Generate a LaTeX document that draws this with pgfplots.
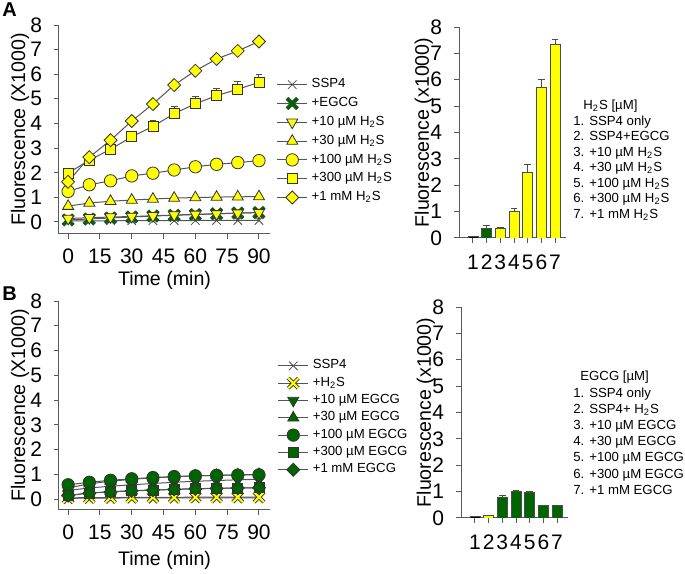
\documentclass[border=0pt]{standalone}
\usepackage{pgfplots}
\pgfplotsset{compat=1.18}
\usepackage{fontspec}
\setmainfont{Liberation Sans}
\definecolor{dg}{RGB}{0,100,0}
\definecolor{yl}{RGB}{255,255,0}
\definecolor{ln}{RGB}{85,85,85}
\pgfdeclareplotmark{fatxg}{%
 \pgfsetlinewidth{2.0pt}\pgfsetstrokecolor{black!70}%
 \pgfpathmoveto{\pgfqpoint{-\pgfplotmarksize}{-\pgfplotmarksize}}\pgfpathlineto{\pgfqpoint{\pgfplotmarksize}{\pgfplotmarksize}}%
 \pgfpathmoveto{\pgfqpoint{-\pgfplotmarksize}{\pgfplotmarksize}}\pgfpathlineto{\pgfqpoint{\pgfplotmarksize}{-\pgfplotmarksize}}%
 \pgfusepathqstroke
 \pgfsetlinewidth{1.3pt}\pgfsetstrokecolor{dg}%
 \pgfpathmoveto{\pgfqpoint{-\pgfplotmarksize}{-\pgfplotmarksize}}\pgfpathlineto{\pgfqpoint{\pgfplotmarksize}{\pgfplotmarksize}}%
 \pgfpathmoveto{\pgfqpoint{-\pgfplotmarksize}{\pgfplotmarksize}}\pgfpathlineto{\pgfqpoint{\pgfplotmarksize}{-\pgfplotmarksize}}%
 \pgfusepathqstroke}
\pgfdeclareplotmark{fatxy}{%
 \pgfsetlinewidth{1.9pt}\pgfsetstrokecolor{black!80}%
 \pgfpathmoveto{\pgfqpoint{-\pgfplotmarksize}{-\pgfplotmarksize}}\pgfpathlineto{\pgfqpoint{\pgfplotmarksize}{\pgfplotmarksize}}%
 \pgfpathmoveto{\pgfqpoint{-\pgfplotmarksize}{\pgfplotmarksize}}\pgfpathlineto{\pgfqpoint{\pgfplotmarksize}{-\pgfplotmarksize}}%
 \pgfusepathqstroke
 \pgfsetlinewidth{1.0pt}\pgfsetstrokecolor{yl}%
 \pgfpathmoveto{\pgfqpoint{-\pgfplotmarksize}{-\pgfplotmarksize}}\pgfpathlineto{\pgfqpoint{\pgfplotmarksize}{\pgfplotmarksize}}%
 \pgfpathmoveto{\pgfqpoint{-\pgfplotmarksize}{\pgfplotmarksize}}\pgfpathlineto{\pgfqpoint{\pgfplotmarksize}{-\pgfplotmarksize}}%
 \pgfusepathqstroke}
\pgfplotsset{
 base/.style={scale only axis, axis lines=left, axis line style={-, black!65, line width=0.5pt},
  tick align=outside, major tick length=2.5pt, tick style={black!65, line width=0.5pt},
  /pgf/number format/assume math mode=true,
  tick label style={font=\fontsize{10.5}{12}\selectfont},
  label style={font=\fontsize{9.8}{11}\selectfont},
  ytick={0,1,...,8}, ymax=8,
  yticklabel style={xshift=-2.5pt},
 },
 lineax/.style={base, width=105.5pt, height=104.5pt, xmin=-4.3, xmax=95.2,
  xtick={0,15,...,90}, xlabel={Time (min)}, ylabel={Fluorescence (X1000)},
  ylabel style={at={(axis description cs:-0.185,0.5)}, anchor=center, rotate=0},
  xticklabel style={yshift=-1.5pt},
  every axis plot/.append style={line width=0.5pt, ln},
  legend style={draw=none, fill=none, font=\fontsize{6.6}{7.5}\selectfont, legend cell align=left, inner sep=0pt, row sep=-0.7pt},
  legend image code/.code={\draw[mark repeat=2,mark phase=2] plot coordinates {(0pt,0pt)(7.5pt,0pt)(15pt,0pt)};},
 },
 barax/.style={base, width=53.5pt, height=105.5pt, xmin=-0.02, xmax=7.8, ymin=0,
  xtick={1,...,7}, ylabel={Fluorescence (x1000)},
  ylabel style={at={(axis description cs:-0.33,0.5)}, anchor=center, rotate=0},
  xticklabel style={yshift=-2.5pt},
  ybar, bar width=5pt, bar shift=0pt,
  every axis plot/.append style={draw=black!70, line width=0.4pt},
 },
 eb/.style={error bars/.cd, y dir=plus, y explicit, error bar style={black!70, line width=0.5pt}, error mark options={rotate=90, mark size=1.7pt, black!70, line width=0.5pt}},
 mk/.style={mark options={draw=black!80, fill=#1, line width=0.4pt, solid}},
 mkr/.style={mark options={draw=black!80, fill=#1, line width=0.4pt, solid, rotate=180}},
 mkd/.style={mark options={draw=black!80, fill=#1, line width=0.4pt, solid, rotate=45}},
}
\begin{document}
\begin{tikzpicture}[x=1pt,y=1pt]
\useasboundingbox (0,0) rectangle (342.5,286.5);
\node[anchor=north west, inner sep=0pt, font=\bfseries\fontsize{10}{12}\selectfont] at (1,285.5) {A};
\node[anchor=north west, inner sep=0pt, font=\bfseries\fontsize{10}{12}\selectfont] at (1,143.5) {B};
% ---------- Panel A line chart
\begin{axis}[lineax, at={(29.5pt,169.5pt)}, anchor=south west, ymin=-0.49,
 xlabel style={at={(axis description cs:0.5,-0.222)}, anchor=center},
 legend style={at={(axis description cs:1.03,0.765)}, anchor=north west}]
\addplot[mark=x, mark size=3pt, mark options={black!70, line width=0.4pt}] coordinates {(0,0.04)(10,0.04)(20,0.05)(30,0.05)(40,0.05)(50,0.05)(60,0.06)(70,0.06)(80,0.06)(90,0.06)};
\addlegendentry{SSP4}
\addplot[mark=fatxg, mark size=2.6pt] coordinates {(0,0.08)(10,0.12)(20,0.16)(30,0.20)(40,0.24)(50,0.27)(60,0.30)(70,0.33)(80,0.36)(90,0.38)};
\addlegendentry{+EGCG}
\addplot[mark=triangle*, mark size=3.2pt, mkr=yl] coordinates {(0,0.14)(10,0.17)(20,0.20)(30,0.22)(40,0.25)(50,0.28)(60,0.31)(70,0.33)(80,0.36)(90,0.38)};
\addlegendentry{+10 µM H\textsubscript{2}S}
\addplot[mark=triangle*, mark size=3.2pt, mk=yl] coordinates {(0,0.64)(10,0.77)(20,0.84)(30,0.89)(40,0.93)(50,0.97)(60,0.99)(70,1.01)(80,1.02)(90,1.03)};
\addlegendentry{+30 µM H\textsubscript{2}S}
\addplot[mark=*, mark size=3.1pt, mk=yl, eb] table[x=t, y=v, y error=e] {
t v e
0 1.24 0.05
10 1.51 0.06
20 1.67 0.08
30 1.87 0.10
40 1.98 0.12
50 2.11 0.13
60 2.24 0.14
70 2.34 0.15
80 2.41 0.15
90 2.49 0.17
};
\addlegendentry{+100 µM H\textsubscript{2}S}
\addplot[mark=square*, mark size=2.5pt, mk=yl, eb] table[x=t, y=v, y error=e] {
t v e
0 1.98 0.08
10 2.51 0.10
20 2.95 0.12
30 3.46 0.20
40 3.88 0.25
50 4.40 0.28
60 4.80 0.30
70 5.13 0.30
80 5.39 0.30
90 5.67 0.32
};
\addlegendentry{+300 µM H\textsubscript{2}S}
\addplot[mark=square*, mark size=2.3pt, mkd=yl] coordinates {(0,1.63)(10,2.63)(20,3.32)(30,4.10)(40,4.79)(50,5.56)(60,6.14)(70,6.62)(80,6.95)(90,7.33)};
\addlegendentry{+1 mM H\textsubscript{2}S}
\end{axis}
% ---------- Panel A bar chart
\begin{axis}[barax, at={(229.5pt,167.5pt)}, anchor=south west]
\addplot[fill=black, eb] coordinates {(1,0.05) +- (0,0.01)};
\addplot[fill=dg, eb] coordinates {(2,0.38) +- (0,0.08)};
\addplot[fill=yl, eb] coordinates {(3,0.35) +- (0,0.05) (4,1.02) +- (0,0.10) (5,2.50) +- (0,0.27) (6,5.70) +- (0,0.30) (7,7.33) +- (0,0.20)};
\end{axis}
\node[anchor=north west, align=left, inner sep=0pt, font=\fontsize{6.6}{7.75}\selectfont] at (286.5,236.5)
 {\hspace{5pt}H\textsubscript{2}S [µM]\\1. SSP4 only\\2. SSP4+EGCG\\3. +10 µM H\textsubscript{2}S\\4. +30 µM H\textsubscript{2}S\\5. +100 µM H\textsubscript{2}S\\6. +300 µM H\textsubscript{2}S\\7. +1 mM H\textsubscript{2}S};
% ---------- Panel B line chart
\begin{axis}[lineax, at={(29.5pt,31.5pt)}, anchor=south west, ymin=-0.44,
 xlabel style={at={(axis description cs:0.5,-0.24)}, anchor=center},
 legend style={at={(axis description cs:1.035,0.74)}, anchor=north west, row sep=-1.45pt}]
\addplot[mark=x, mark size=3pt, mark options={black!70, line width=0.4pt}] coordinates {(0,0.03)(10,0.04)(20,0.04)(30,0.05)(40,0.05)(50,0.05)(60,0.05)(70,0.05)(80,0.05)(90,0.05)};
\addlegendentry{SSP4}
\addplot[mark=fatxy, mark size=2.5pt] coordinates {(0,0.05)(10,0.06)(20,0.06)(30,0.07)(40,0.07)(50,0.07)(60,0.08)(70,0.08)(80,0.08)(90,0.08)};
\addlegendentry{+H\textsubscript{2}S}
\addplot[mark=triangle*, mark size=3.2pt, mkr=dg] coordinates {(0,0.35)(10,0.45)(20,0.52)(30,0.58)(40,0.63)(50,0.68)(60,0.72)(70,0.75)(80,0.78)(90,0.80)};
\addlegendentry{+10 µM EGCG}
\addplot[mark=triangle*, mark size=3.2pt, mk=dg] coordinates {(0,0.45)(10,0.62)(20,0.72)(30,0.80)(40,0.86)(50,0.90)(60,0.94)(70,0.96)(80,0.98)(90,1.00)};
\addlegendentry{+30 µM EGCG}
\addplot[mark=*, mark size=3.1pt, mk=dg] coordinates {(0,0.58)(10,0.68)(20,0.76)(30,0.82)(40,0.87)(50,0.91)(60,0.94)(70,0.96)(80,0.97)(90,0.98)};
\addlegendentry{+100 µM EGCG}
\addplot[mark=square*, mark size=2.5pt, mk=dg] coordinates {(0,0.15)(10,0.25)(20,0.30)(30,0.34)(40,0.37)(50,0.40)(60,0.42)(70,0.44)(80,0.45)(90,0.46)};
\addlegendentry{+300 µM EGCG}
\addplot[mark=square*, mark size=2.3pt, mkd=dg] coordinates {(0,0.14)(10,0.24)(20,0.29)(30,0.33)(40,0.36)(50,0.39)(60,0.41)(70,0.43)(80,0.45)(90,0.46)};
\addlegendentry{+1 mM EGCG}
\end{axis}
% ---------- Panel B bar chart
\begin{axis}[barax, at={(230.5pt,27.5pt)}, anchor=south west]
\addplot[fill=black, eb] coordinates {(1,0.05) +- (0,0.01)};
\addplot[fill=yl, eb] coordinates {(2,0.08) +- (0,0.02)};
\addplot[fill=dg, eb] coordinates {(3,0.80) +- (0,0.05) (4,1.00) +- (0,0.04) (5,0.98) +- (0,0.03) (6,0.46) +- (0,0.03) (7,0.46) +- (0,0.02)};
\end{axis}
\node[anchor=north west, align=left, inner sep=0pt, font=\fontsize{6.6}{8.1}\selectfont] at (286.5,101)
 {\hspace{3.5pt}EGCG [µM]\\1. SSP4 only\\2. SSP4+ H\textsubscript{2}S\\3. +10 µM EGCG\\4. +30 µM EGCG\\5. +100 µM EGCG\\6. +300 µM EGCG\\7. +1 mM EGCG};
\end{tikzpicture}
\end{document}
